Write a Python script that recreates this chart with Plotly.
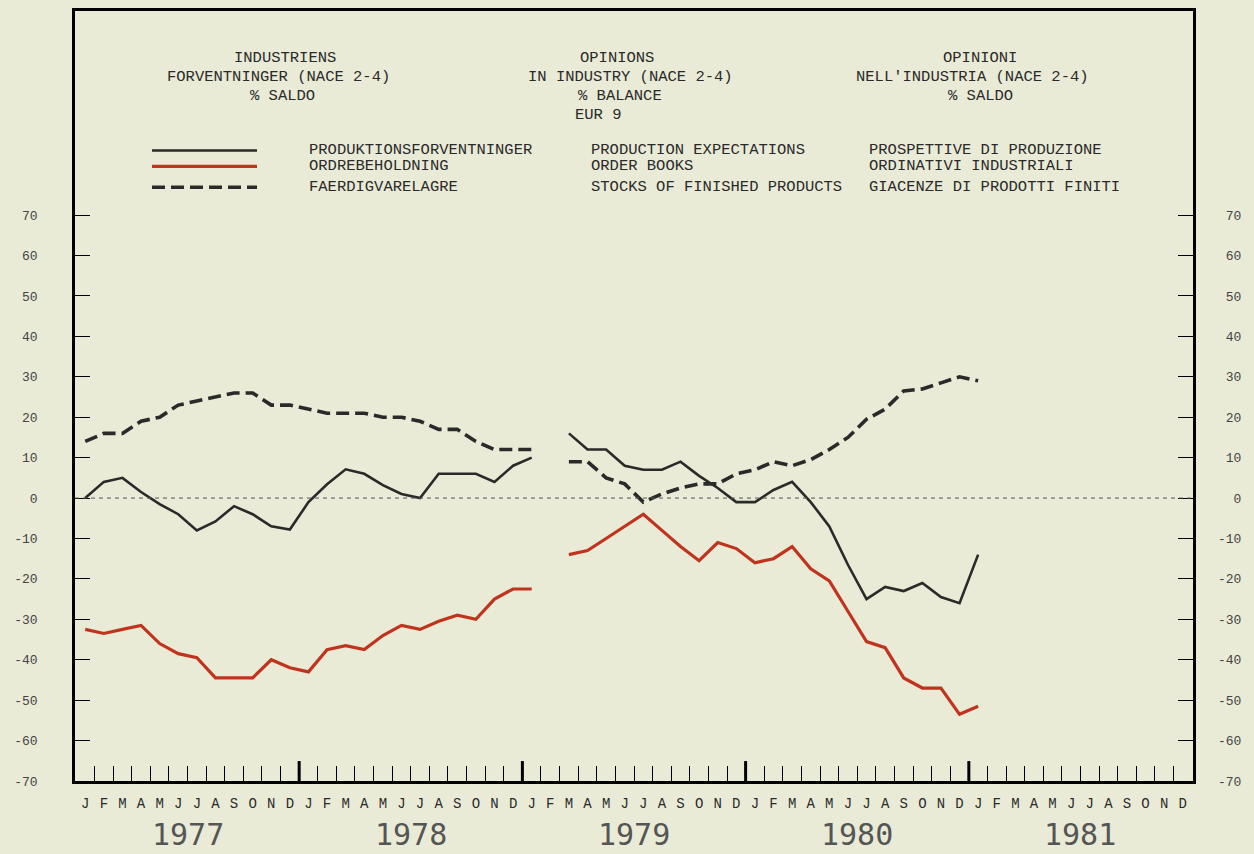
import plotly.graph_objects as go

# month letters along the bottom, five years
month_letters = list("JFMAMJJASOND") * 5
years = ["1977", "1978", "1979", "1980", "1981"]

# month index 0 = Jan 1977; Feb 1979 (index 25) has no survey value
month_idx = list(range(49))

production = [0, 4, 5, 1.5, -1.5, -4, -8, -5.8, -2, -4, -7, -7.8,
              -1, 3.4, 7.1, 6, 3.2, 1, 0, 6, 6, 6, 4, 8,
              10, None,
              16, 12, 12, 8, 7, 7, 9, 5.5, 2.5, -1,
              -1, 2, 4, -1, -7, -16.5, -25, -22, -23, -21, -24.5, -26,
              -14]

order_books = [-32.5, -33.5, -32.5, -31.5, -36, -38.5, -39.5, -44.5, -44.5, -44.5, -40, -42,
               -43, -37.5, -36.5, -37.5, -34, -31.5, -32.5, -30.5, -29, -30, -25, -22.5,
               -22.5, None,
               -14, -13, -10, -7, -4, -8, -12, -15.5, -11, -12.5,
               -16, -15, -12, -17.5, -20.5, -28, -35.5, -37, -44.5, -47, -47, -53.5,
               -51.5]

stocks = [14, 16, 16, 19, 20, 23, 24, 25, 26, 26, 23, 23,
          22, 21, 21, 21, 20, 20, 19, 17, 17, 14, 12, 12,
          12, None,
          9, 9, 5, 3.5, -1, 1, 2.5, 3.5, 3.5, 6,
          7, 9, 8, 9.5, 12, 15, 19.5, 22, 26.5, 27, 28.5, 30,
          29]

y_ticks = list(range(-70, 80, 10))
# padded with no-break spaces so the right-hand labels line up on the right
y_ticktext = [str(v).rjust(3, "\u00a0") for v in y_ticks]

titles = [
    ["INDUSTRIENS", "FORVENTNINGER (NACE 2-4)", "% SALDO"],
    ["OPINIONS", "IN INDUSTRY (NACE 2-4)", "% BALANCE", "EUR 9"],
    ["OPINIONI", "NELL'INDUSTRIA (NACE 2-4)", "% SALDO"],
]
legend_rows = [
    ["PRODUKTIONSFORVENTNINGER", "PRODUCTION EXPECTATIONS", "PROSPETTIVE DI PRODUZIONE"],
    ["ORDREBEHOLDNING", "ORDER BOOKS", "ORDINATIVI INDUSTRIALI"],
    ["FAERDIGVARELAGRE", "STOCKS OF FINISHED PRODUCTS", "GIACENZE DI PRODOTTI FINITI"],
]

BG = "#e9ebd6"
INK = "#2a2a2a"
RED = "#c0341e"
FONT = "Liberation Mono"

W, H = 1254, 854
L, R, T, B = 75, 61, 8, 73
PW, PH = W - L - R, H - T - B


def px(x):
    return (x - L) / PW


def py(y):
    return (H - B - y) / PH


fig = go.Figure()
fig.add_trace(go.Scatter(x=month_idx, y=production, mode="lines",
                         line=dict(color=INK, width=2.6), connectgaps=False))
fig.add_trace(go.Scatter(x=month_idx, y=order_books, mode="lines",
                         line=dict(color=RED, width=3.2), connectgaps=False))
fig.add_trace(go.Scatter(x=month_idx, y=stocks, mode="lines",
                         line=dict(color=INK, width=3.6, dash="13px,6px"), connectgaps=False))
# carrier for the right-hand axis labels
fig.add_trace(go.Scatter(x=[None], y=[None], yaxis="y2", mode="lines"))

shapes = []
# dotted zero line
shapes.append(dict(type="line", xref="paper", yref="y", x0=0, x1=1, y0=0, y1=0,
                   line=dict(color="#555", width=1, dash="4px,4px")))
# thicker year boundary ticks
for k in range(1, 5):
    shapes.append(dict(type="line", xref="x", yref="paper", x0=12 * k - 0.5, x1=12 * k - 0.5,
                       y0=0, y1=20 / PH, line=dict(color="black", width=3)))

# legend samples
sample_styles = [dict(color=INK, width=2.6), dict(color=RED, width=3.2),
                 dict(color=INK, width=3.6, dash="13px,6px")]
sample_y = [148, 164, 185]
for yy, st in zip(sample_y, sample_styles):
    shapes.append(dict(type="line", xref="paper", yref="paper", x0=px(152), x1=px(257),
                       y0=py(yy), y1=py(yy), line=st))

annotations = []
title_x = [[285, 278, 282], [617, 630, 620, 598], [980, 972, 980]]
for xs, lines in zip(title_x, titles):
    for j, (cx, t) in enumerate(zip(xs, lines)):
        annotations.append(dict(text=t, x=px(cx), y=py(55 + 19 * j), xref="paper", yref="paper",
                                showarrow=False, xanchor="center", yanchor="middle",
                                font=dict(family=FONT, size=15.5, color=INK)))

col_x = [307, 589, 867]
for yy, row in zip(sample_y, legend_rows):
    for cx, t in zip(col_x, row):
        annotations.append(dict(text=t, x=px(cx), y=py(yy), xref="paper", yref="paper",
                                showarrow=False, xanchor="left", yanchor="middle",
                                font=dict(family=FONT, size=15.5, color=INK)))

for k, yr in enumerate(years):
    annotations.append(dict(text=yr, x=12 * k + 5.5, y=py(835), xref="x", yref="paper",
                            showarrow=False, xanchor="center", yanchor="middle",
                            font=dict(family="DejaVu Sans Mono", size=30, color="#555")))

fig.update_layout(
    width=W, height=H,
    margin=dict(l=L, r=R, t=T, b=B),
    paper_bgcolor=BG, plot_bgcolor=BG,
    showlegend=False,
    shapes=shapes,
    annotations=annotations,
    xaxis=dict(
        range=[-0.55, 59.55],
        tickvals=list(range(60)), ticktext=month_letters, ticks="",
        tickfont=dict(family=FONT, size=14, color=INK),
        ticklabelstandoff=7,
        minor=dict(tickvals=[i + 0.5 for i in range(59)], ticks="inside",
                   ticklen=15, tickwidth=1.3, tickcolor="black"),
        showline=True, linewidth=2.5, linecolor="black", mirror=True,
        showgrid=False, zeroline=False,
    ),
    yaxis=dict(
        range=[-70, 120.5],
        tickvals=y_ticks, ticktext=y_ticktext,
        ticks="inside", ticklen=15, tickwidth=1.3, tickcolor="black",
        tickfont=dict(family=FONT, size=13, color="#444"),
        ticklabelstandoff=32,
        showline=True, linewidth=2.5, linecolor="black", mirror=True,
        showgrid=False, zeroline=False,
    ),
    yaxis2=dict(
        overlaying="y", side="right", anchor="x",
        range=[-70, 120.5],
        tickvals=y_ticks, ticktext=y_ticktext,
        ticks="inside", ticklen=15, tickwidth=1.3, tickcolor="black",
        tickfont=dict(family=FONT, size=13, color="#444"),
        ticklabelstandoff=24,
        showline=False, showgrid=False, zeroline=False,
    ),
)

fig.write_html("out.html", config={"displayModeBar": False},
               post_script="document.body.style.margin='0';")
